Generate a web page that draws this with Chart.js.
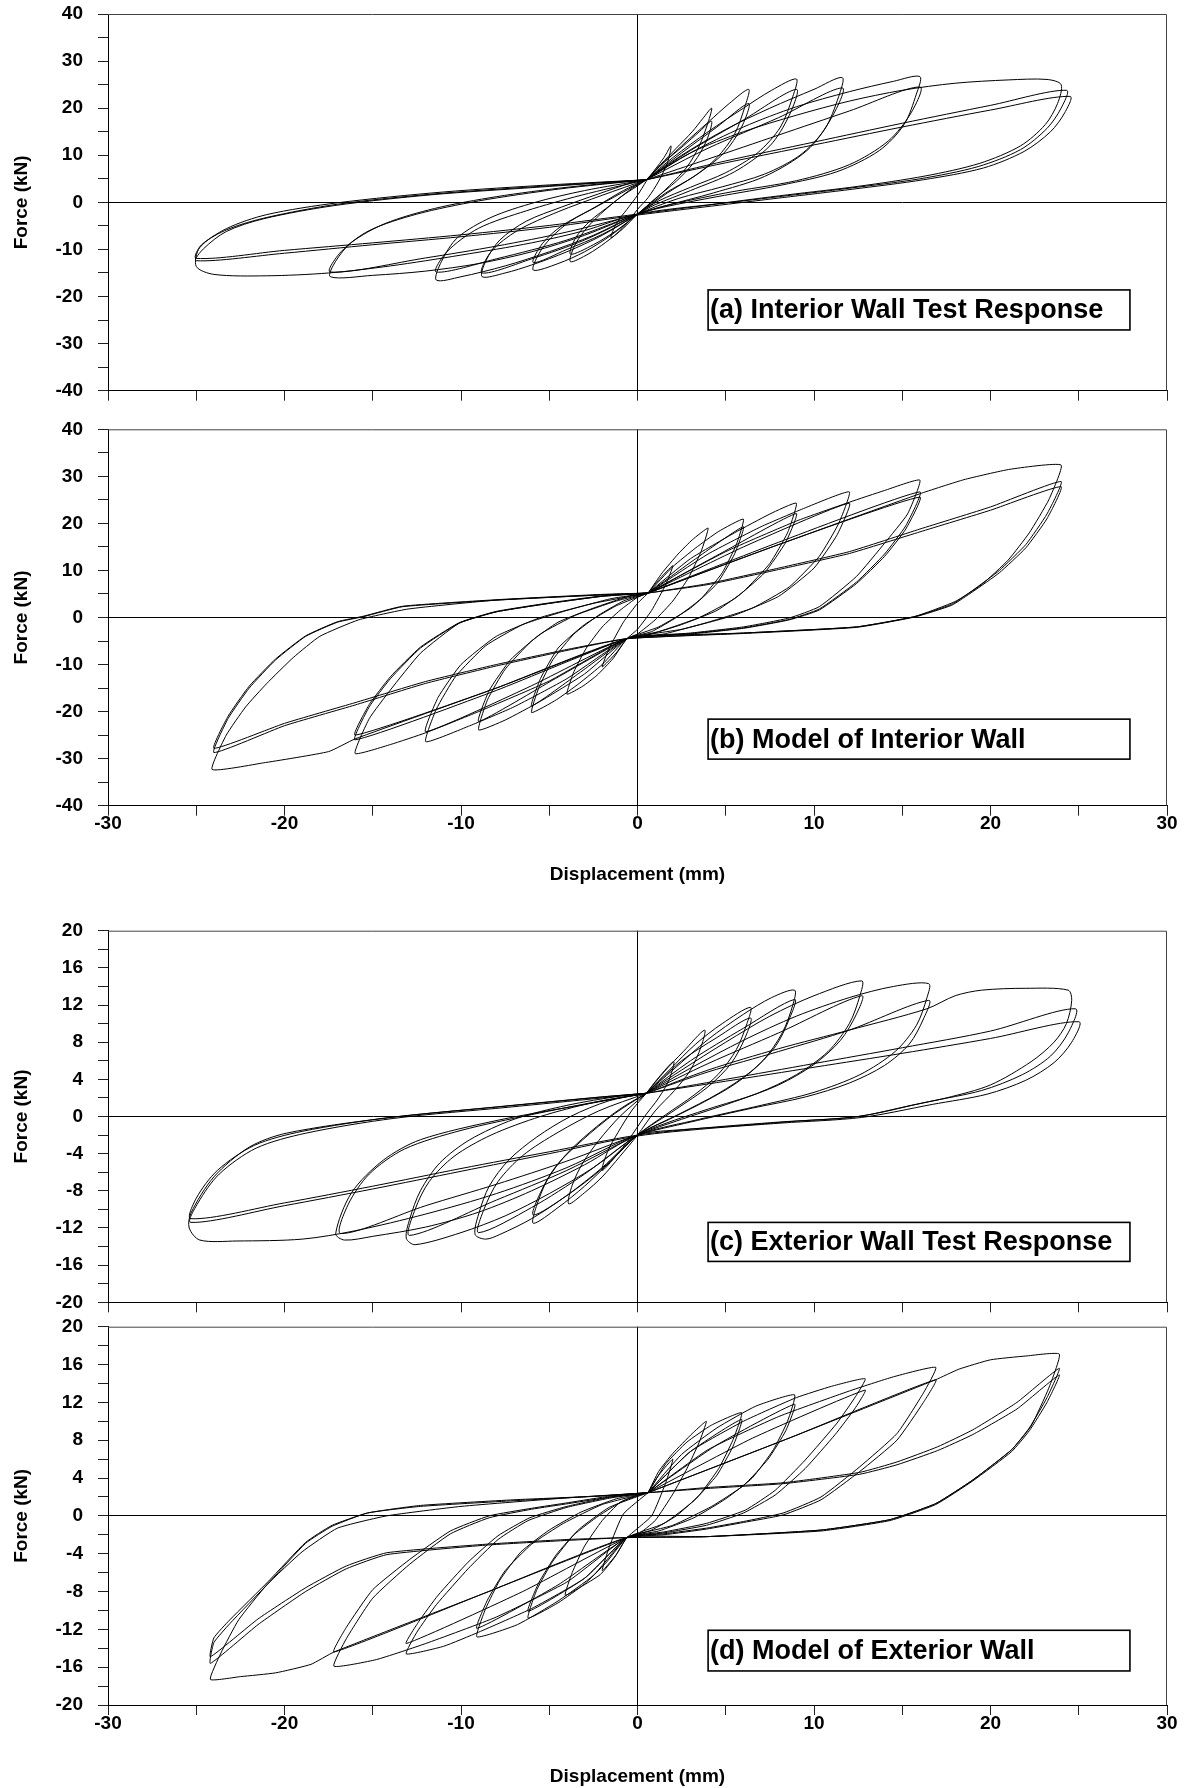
<!DOCTYPE html>
<html>
<head>
<meta charset="utf-8">
<title>Wall hysteresis: test response and model</title>
<script src="https://cdn.jsdelivr.net/npm/chart.js@4.4.1/dist/chart.umd.min.js"></script>
<style>
  html, body { margin: 0; padding: 0; background: #fff; }
  #page { position: relative; width: 1188px; height: 1788px; overflow: hidden; }
  #page canvas { position: absolute; left: 0; }
</style>
</head>
<body>
<div id="page">
  <canvas id="panel-a" width="1188" height="405" style="top:0px"></canvas>
  <canvas id="panel-b" width="1188" height="471" style="top:415px"></canvas>
  <canvas id="panel-c" width="1188" height="400" style="top:916px"></canvas>
  <canvas id="panel-d" width="1188" height="476" style="top:1312px"></canvas>
</div>
<script>
// tick labels
const displacementLabels = [-30, -20, -10, 0, 10, 20, 30];
const interiorForceLabels = [-40, -30, -20, -10, 0, 10, 20, 30, 40];
const exteriorForceLabels = [-20, -16, -12, -8, -4, 0, 4, 8, 12, 16, 20];

// (a) interior wall, test: one loop per cycle, [displacement mm, force kN]
const interiorTest = [
    [[0.5,4.5],[1,7],[1.5,9.5],[1.9,12],[1.7,8.5],[1.2,4.5],[0.6,1],[0,-1.5],[-0.5,-4],[-1,-6],[-1.5,-7.5],[-1.2,-4.5],[-0.6,-1.5],[0,1.5],[0.5,4.5]],
    [[0.5,4.8],[1.3,8],[2.2,11.5],[3.1,15],[3.7,17.8],[4.2,20],[4,17],[3.5,12],[2.8,7.5],[1.8,3.5],[0.8,0],[0,-2.5],[-0.8,-5.5],[-1.8,-8.5],[-2.8,-11],[-3.8,-12.6],[-3.6,-9.5],[-3,-6],[-2.1,-2.5],[-1,1],[0,3.5],[0.5,4.8]],
    [[0.5,4.8],[1.5,8.5],[2.6,12],[3.5,15],[4.2,17.2],[3.9,13],[3.2,8.5],[2.2,4.5],[1,0.8],[0,-2.5],[-1.2,-6],[-2.5,-9],[-3.8,-11],[-3.5,-7.5],[-2.7,-4],[-1.5,-0.5],[-0.3,3],[0.5,4.8]],
    [[0.5,4.8],[1.5,8.5],[2.8,13],[4,17],[5.2,21],[6.3,24],[6.1,20.5],[5.5,14.5],[4.5,9.5],[3.2,5.5],[1.6,2],[0,-2.5],[-1.5,-7],[-3,-10.5],[-4.5,-13],[-5.9,-14.4],[-5.6,-11],[-4.9,-7.5],[-3.8,-4],[-2.3,-0.8],[-0.8,2.5],[0.5,4.8]],
    [[0.5,4.8],[2.5,10.5],[4.5,16],[6.3,21],[5.9,16],[4.9,10.5],[3.4,6],[1.7,2],[0,-2.5],[-2,-6.8],[-4,-10],[-5.9,-12.8],[-5.4,-8.8],[-4.3,-5],[-2.6,-1.5],[-0.9,2],[0.5,4.8]],
    [[0.5,4.8],[2,9.5],[4,15],[6,20],[7.6,23.8],[9,26.2],[8.8,22.5],[8.1,16],[6.8,10.5],[5,6.3],[3,3.2],[1.2,0.3],[0,-2.5],[-2,-7],[-4,-10.5],[-6,-13.3],[-7.5,-15],[-8.8,-15.8],[-8.6,-12.5],[-7.8,-8],[-6.3,-4],[-4.3,-1],[-2.2,1.8],[-0.3,4.2],[0.5,4.8]],
    [[0.5,4.8],[3,11],[6,17.5],[9,24],[8.6,18.5],[7.5,12],[5.5,6.5],[3,2.5],[1,-0.5],[0,-2.5],[-3,-8],[-6,-12],[-8.8,-15],[-8.3,-10.5],[-6.8,-6],[-4.5,-2],[-2,1.5],[0.5,4.8]],
    [[0.5,4.8],[2.5,10],[5,15.5],[7.5,20],[10,24],[11.6,26.5],[11.4,22.5],[10.6,15.5],[9.2,10],[7.2,6],[4.8,3.3],[2.3,0.8],[0,-2.5],[-2.5,-7],[-5,-10.5],[-7.5,-13.5],[-10,-15.8],[-11.4,-16.5],[-11.1,-12.5],[-10.2,-7.5],[-8.3,-3.2],[-5.8,0],[-3,2.5],[0.5,4.8]],
    [[0.5,4.8],[4,11.5],[8,18],[11.6,24.3],[11,18],[9.6,11],[7.2,5.5],[4.3,2],[1.5,-0.8],[0,-2.5],[-4,-8],[-8,-12],[-11.4,-14.8],[-10.8,-10.5],[-9,-5.5],[-6.3,-1.8],[-3.2,1.5],[0.5,4.8]],
    [[0.5,4.8],[3,10.5],[6,16],[9,20.3],[12,23.5],[14.5,25.7],[16,26.7],[15.8,23],[15.1,16.5],[13.7,11],[11.3,6.5],[8.2,3.7],[4.5,1.2],[1.5,-1],[0,-2.5],[-3,-7],[-6,-10.5],[-9,-13],[-12,-14.6],[-15,-15.5],[-17.4,-15.8],[-17.1,-12.5],[-16.2,-8.5],[-14.3,-4.5],[-11.5,-1.3],[-8,1.2],[-4,3.2],[0.5,4.8]],
    [[0.5,4.8],[4,9.2],[8,14.3],[12,19.4],[16,24.5],[15.5,19],[14.2,13],[12,8],[9,4.6],[5,2],[1.5,-0.8],[0,-2.5],[-4,-6.3],[-8,-9.3],[-12,-11.8],[-17.4,-14.8],[-16.8,-10.5],[-15.2,-6],[-12.5,-2.5],[-9,0.3],[-4.5,2.8],[0.5,4.8]],
    [[0.5,4.8],[3,10.5],[6,15],[9,18.5],[12,21.5],[15,23.8],[18,25.3],[21,26],[23.2,26.1],[24,25],[23.8,21],[23.1,16.5],[21.7,12],[19.4,8.3],[16.3,5.6],[12.5,3.4],[8.5,1.6],[4.5,-0.3],[0,-2.5],[-3,-6],[-6,-8.6],[-10,-11.2],[-14,-13.5],[-17.5,-15],[-21,-15.6],[-24,-15.3],[-25,-13.6],[-24.8,-9.6],[-23.3,-5.6],[-21,-2.6],[-17,-0.1],[-11,2.2],[-5,3.7],[0.5,4.8]],
    [[0.5,4.8],[5,8.8],[10,12.8],[15,16.8],[20,20.6],[24.3,23.8],[24,20],[23.2,15.7],[21.7,11.2],[19.3,7.6],[16,5],[12,3],[8,1.2],[4,-0.6],[0,-2.5],[-5,-4.9],[-10,-6.9],[-15,-8.6],[-20,-10.2],[-25,-11.9],[-24.7,-9],[-23.2,-5.7],[-21,-3.2],[-17,-0.4],[-11.5,1.8],[-5.5,3.4],[0.5,4.8]],
    [[0.5,4.8],[5,8.4],[10,12.2],[15,16],[20,19.6],[24.5,22.5],[24.2,19],[23.4,15],[21.9,10.8],[19.6,7.3],[16.2,4.8],[12.2,2.8],[8.2,1],[4.2,-0.8],[0,-2.7],[-5,-5.3],[-10,-7.3],[-15,-9],[-20,-10.8],[-25,-12.4],[-24.6,-9.9],[-23.3,-6.2],[-21.2,-3.5],[-17.2,-0.7],[-11.7,1.6],[-5.7,3.2],[0.5,4.8]],
];

// (b) interior wall, model
const interiorModel = [
    [[0.6,5.2],[1.2,8],[2,11],[1.6,7],[0.8,1.5],[0,-2.5],[-0.6,-4.5],[-1.2,-7.5],[-2,-10.5],[-1.6,-6.5],[-0.8,-1],[0,3],[0.6,5.2]],
    [[0.6,5.2],[1.4,9.5],[2.3,13.5],[3.1,16.5],[4,19],[3.6,14],[2.9,8.5],[2,3.5],[1,-0.5],[0,-3.5],[-0.6,-4.5],[-1.4,-8.8],[-2.3,-12.3],[-3.1,-14.6],[-4,-16.3],[-3.6,-11.5],[-2.9,-6.5],[-2,-2],[-1,1.5],[0,4.3],[0.6,5.2]],
    [[0.6,5.2],[2,10.8],[3.3,14.8],[4.6,18.3],[6,20.9],[5.6,15.5],[4.8,9.5],[3.6,4],[2.2,0],[0.8,-3],[-0.6,-4.5],[-2,-10],[-3.3,-14],[-4.6,-17.5],[-6,-20.2],[-5.6,-15],[-4.8,-9],[-3.6,-3.5],[-2.2,0.5],[-0.8,3.5],[0.6,5.2]],
    [[0.6,5.2],[3.3,12.5],[6,19.3],[5.5,13.5],[4.5,7.2],[3,2],[1.2,-2],[-0.6,-4.5],[-3.3,-11.8],[-6,-18.8],[-5.5,-13],[-4.5,-6.5],[-3,-1.5],[-1.2,2.5],[0.6,5.2]],
    [[0.6,5.2],[3,12.5],[5.5,18],[7.5,22],[9,24.3],[8.5,18],[7.5,11.5],[6,5.5],[4.5,1.5],[2.5,-1.5],[0.5,-3.8],[-0.6,-4.5],[-3,-12],[-5.5,-17.8],[-7.5,-21.8],[-9,-23.9],[-8.5,-17.5],[-7.5,-11],[-6,-5],[-4.5,-1],[-2.5,2],[-0.5,4.5],[0.6,5.2]],
    [[0.6,5.2],[4.8,13.8],[9,22.1],[8.4,16],[7.2,9.5],[5.5,4],[3.5,0],[1.2,-3],[-0.6,-4.5],[-4.8,-13.3],[-9,-22.1],[-8.4,-15.5],[-7.2,-9],[-5.5,-3.5],[-3.5,0.5],[-1.2,3.5],[0.6,5.2]],
    [[0.6,5.2],[4,13.5],[7,19.3],[9.5,23.3],[12,26.7],[11.4,20],[10.3,13],[8.6,6.5],[6.5,2],[4,-1],[1.5,-3.5],[-0.6,-4.5],[-4,-13],[-7,-19],[-9.5,-23],[-12,-26.4],[-11.4,-19.5],[-10.3,-12.5],[-8.6,-6],[-6.5,-1.5],[-4,1.5],[-1.5,4],[0.6,5.2]],
    [[0.6,5.2],[6,15],[12,24.3],[11.3,17.5],[10,10.5],[8,4.5],[5.5,0.5],[2.5,-2.5],[-0.6,-4.5],[-6,-14.5],[-12,-24.3],[-11.3,-17],[-10,-10],[-8,-4],[-5.5,0],[-2.5,3],[0.6,5.2]],
    [[0.6,5.2],[5,14],[9,20.5],[12,24.5],[14,27],[16,29.2],[15.3,22],[14,15.8],[12.4,8.7],[10.3,2.3],[8.6,-0.1],[6,-2],[3,-3.3],[-0.6,-4.5],[-5,-13.5],[-9,-20],[-12,-24.5],[-14,-27],[-16,-28.9],[-15.2,-21.5],[-14,-15.4],[-12.3,-7.6],[-10.1,-1.2],[-8,1.2],[-5,3],[-2,4.5],[0.6,5.2]],
    [[0.6,5.2],[8,16],[16,26.7],[15.2,19.5],[14,13.5],[12.4,7.5],[10.3,1.8],[8.6,-0.4],[6,-2.2],[3,-3.4],[-0.6,-4.5],[-8,-15.5],[-16,-26],[-15.2,-19],[-14,-13],[-12.3,-6.5],[-10.1,-1.2],[-8,1.2],[-5,3],[-2,4.5],[0.6,5.2]],
    [[0.6,5.2],[8,15.5],[16,25.6],[15.2,18.8],[14,13],[12.4,7.2],[10.3,1.6],[8.6,-0.5],[6,-2.3],[3,-3.5],[-0.6,-4.5],[-8,-15],[-16,-25],[-15.2,-18.5],[-14,-12.6],[-12.3,-6.3],[-10.1,-1.1],[-8,1.3],[-5,3.1],[-2,4.6],[0.6,5.2]],
    [[0.6,5.2],[8,15.5],[16,26.3],[18.5,29.3],[21.1,31.5],[24,32.4],[23.3,25],[22.2,18],[21,12.2],[19.5,7],[18,3.4],[15.7,0.2],[12.4,-2],[6,-3.3],[-0.6,-4.5],[-8,-15],[-16,-25.8],[-17.5,-28.5],[-21.2,-30.9],[-24.1,-32.3],[-23.3,-25],[-22.2,-19],[-21,-14],[-19.5,-8.5],[-18,-4],[-15.8,-0.5],[-13,1.8],[-8,3.7],[-2,4.8],[0.6,5.2]],
    [[0.6,5.2],[4,7.2],[8,10.5],[12,14],[16,18.8],[20,23.5],[24,28.9],[23.2,22],[22,15.5],[20.5,10],[19,5.8],[17.8,2.8],[15.7,0.2],[12.4,-2],[6,-3.3],[-0.6,-4.5],[-4,-7],[-8,-10.3],[-12,-14],[-16,-18.6],[-20,-23],[-24,-28.7],[-23.2,-21.5],[-22,-15],[-20.5,-9],[-18.8,-4],[-17,-1],[-15.5,0.2],[-13.3,2.3],[-7.9,3.7],[-2.1,4.8],[0.6,5.2]],
    [[0.6,5.2],[4,7],[8,10.2],[12,13.6],[16,18.2],[20,22.8],[24,27.8],[23.2,21],[22,14.8],[20.5,9.5],[19,5.5],[17.8,2.6],[15.7,0.1],[12.4,-2.1],[6,-3.4],[-0.6,-4.5],[-4,-6.8],[-8,-10],[-12,-13.6],[-16,-18.1],[-20,-22.5],[-24,-27.8],[-23.2,-21],[-22,-14.6],[-20.5,-8.8],[-18.8,-3.9],[-17,-0.9],[-15.5,0.3],[-13.3,2.4],[-7.9,3.8],[-2.1,4.9],[0.6,5.2]],
];

// (c) exterior wall, test
const exteriorTest = [
    [[0.5,2.5],[1.2,4.2],[2.05,5.9],[1.8,4],[1.2,2],[0.4,0],[-0.5,-2.5],[-1.2,-4.2],[-2,-5.8],[-1.7,-3.8],[-1.1,-1.7],[-0.3,0.7],[0.5,2.5]],
    [[0.5,2.5],[1.5,4.8],[2.6,7],[3.8,9.3],[3.6,7.5],[3,5],[2.1,2.8],[1,0.6],[0,-2],[-1,-4.3],[-2,-6.5],[-3,-8.2],[-3.9,-9.4],[-3.7,-7.4],[-3.1,-5],[-2.2,-2.6],[-1,0],[0.5,2.5]],
    [[0.5,2.5],[1.8,5],[3.3,7.8],[4.8,10],[6.4,11.75],[6.2,10],[5.6,7.2],[4.6,4.6],[3.2,2.3],[1.6,0.2],[0,-2],[-1.5,-4.8],[-3,-7.5],[-4.5,-9.8],[-5.9,-11.5],[-5.7,-9.5],[-5.1,-6.8],[-4.1,-4.2],[-2.7,-1.7],[-1,0.8],[0.5,2.5]],
    [[0.5,2.5],[2.5,6],[4.5,8.5],[6.4,10.6],[6.1,8.5],[5.3,5.7],[4,3.2],[2.2,0.8],[0,-2],[-2,-5.6],[-4,-8.5],[-5.9,-10.6],[-5.5,-8.2],[-4.6,-5.3],[-3.1,-2.5],[-1.3,0.3],[0.5,2.5]],
    [[0.5,2.5],[2,5],[4,8.3],[6,11],[7.6,12.8],[8.9,13.6],[8.8,12],[8.2,9],[7.1,6],[5.6,3.6],[3.8,1.6],[1.8,-0.3],[0,-2],[-2,-5.5],[-4,-8.5],[-6,-11],[-7.8,-12.7],[-8.6,-13.2],[-9.2,-12.7],[-9,-10.5],[-8.4,-7.5],[-7.3,-4.7],[-5.7,-2.2],[-3.8,0],[-1.6,1.7],[0.5,2.5]],
    [[0.5,2.5],[3,6],[6,9.5],[8.9,12.6],[8.6,10.5],[7.8,7.5],[6.4,4.8],[4.6,2.5],[2.4,0.3],[0,-2],[-3,-6.2],[-6,-9.8],[-9,-12.5],[-8.7,-10],[-7.9,-7],[-6.5,-4.2],[-4.5,-1.7],[-2.2,0.6],[0.5,2.5]],
    [[0.5,2.5],[2.5,5],[5,8],[7.5,10.8],[10,13],[12.7,14.6],[12.6,13],[12,10],[10.8,7],[9,4.5],[6.8,2.5],[4,0.8],[1.5,-0.8],[0,-2],[-2.5,-5.5],[-5,-8.3],[-7.5,-10.7],[-10,-12.5],[-12.6,-13.8],[-13.1,-13.1],[-12.9,-11],[-12.3,-8],[-11.2,-5],[-9.5,-2.5],[-7,-0.3],[-4,1.2],[-1,2.2],[0.5,2.5]],
    [[0.5,2.5],[4,5.7],[8,9],[12.7,13],[12.4,11],[11.5,8.2],[10,5.6],[8,3.4],[5.5,1.6],[2.5,-0.3],[0,-2],[-4,-5.8],[-8,-9],[-12.9,-12.8],[-12.6,-10],[-11.8,-7],[-10.4,-4.3],[-8.3,-2],[-5.5,0],[-2.5,1.5],[0.5,2.5]],
    [[0.5,2.5],[3,5.2],[6,8.2],[9,10.8],[12,12.8],[14.5,14],[16.5,14.3],[16.4,12.8],[15.8,9.8],[14.6,7],[12.6,4.5],[10,2.6],[7,1.2],[3.5,-0.3],[0,-2],[-3,-5.2],[-6,-8],[-9,-10.3],[-12,-11.9],[-15,-12.9],[-16.6,-13.3],[-17.1,-12.6],[-16.2,-8.2],[-14.4,-4.7],[-12.3,-2.5],[-7.9,-0.4],[-3,1.3],[0.5,2.5]],
    [[0.5,2.5],[4,4.8],[8,7],[12,9.3],[16.5,12.5],[16.2,10.5],[15.4,7.8],[14,5.5],[12,3.6],[9.5,2.1],[6.5,0.9],[3,-0.6],[0,-2],[-4,-4.8],[-8,-7.3],[-12,-9.6],[-16.8,-12.6],[-16.4,-9.5],[-15.2,-6.2],[-13.2,-3.5],[-10,-1.5],[-6,0.2],[-2,1.7],[0.5,2.5]],
    [[0.5,2.5],[4,5],[8,7.3],[12,9.3],[16.4,11.6],[18,13],[19.5,13.6],[22,13.8],[24.4,13.6],[24.6,12.5],[24.3,10],[23.6,8],[22.3,5.9],[20,3.4],[17.5,2],[15.5,1.2],[12.5,0],[9,-0.5],[5,-1.1],[2.6,-1.4],[0,-2],[-4,-5.5],[-8,-8.3],[-12,-10.5],[-16,-12.3],[-19,-13.2],[-22.7,-13.4],[-24.8,-13.3],[-25.4,-12],[-25.3,-10.4],[-24,-6.5],[-22,-3.3],[-19.9,-1.8],[-14.4,-0.2],[-7.9,1.05],[-2.1,2.1],[0.5,2.5]],
    [[0.5,2.5],[5,4],[10,5.7],[15,7.4],[20,9.2],[24.8,11.6],[24.4,9],[23.4,6.5],[21.8,4.5],[19.5,2.8],[16.5,1.6],[12.5,0],[8,-0.6],[4,-1.2],[0,-2],[-5,-3.8],[-10,-5.6],[-15,-7.5],[-20,-9.3],[-25.3,-11],[-25,-8.8],[-23.8,-5.8],[-21.7,-3.1],[-19,-1.6],[-14,-0.1],[-7.5,1.1],[-2,2.1],[0.5,2.5]],
    [[0.5,2.5],[5,3.8],[10,5.3],[15,6.8],[20,8.4],[25,10.2],[24.6,8],[23.6,5.8],[22,3.9],[19.8,2.4],[16.7,1.3],[12.7,-0.1],[8.2,-0.7],[4,-1.3],[0,-2.1],[-5,-4],[-10,-5.9],[-15,-7.8],[-20,-9.6],[-25.3,-11.4],[-24.9,-9.3],[-23.7,-6.2],[-21.6,-3.4],[-18.8,-1.8],[-13.8,-0.2],[-7.3,1],[-2,2],[0.5,2.5]],
];

// (d) exterior wall, model
const exteriorModel = [
    [[0.6,2.45],[1.2,4.3],[2,6],[1.6,3.5],[0.8,0],[-0.6,-2.3],[-1.2,-4.1],[-2,-5.8],[-1.6,-3.3],[-0.8,0.2],[0.6,2.45]],
    [[0.6,2.45],[1.2,4.7],[2,6.6],[3.1,8.7],[3.9,10],[3.5,7.8],[2.8,5],[2,2.3],[1,-0.5],[0,-2],[-0.6,-2.3],[-1.3,-4.4],[-2.1,-6.2],[-3.2,-7.5],[-4.1,-8.4],[-3.7,-6],[-3,-3.2],[-2,-0.5],[-1,1.4],[0,2.2],[0.6,2.45]],
    [[0.6,2.45],[1.6,5.5],[2.8,7.8],[4.2,9.6],[5.9,10.9],[5.4,8],[4.6,5],[3.5,2.2],[2.2,0],[0.8,-1.5],[-0.6,-2.3],[-1.8,-5],[-3,-7.2],[-4.5,-9.2],[-6.2,-10.8],[-5.7,-7.8],[-4.8,-4.8],[-3.6,-2],[-2.2,0],[-0.8,1.6],[0.6,2.45]],
    [[0.6,2.45],[3,6.8],[5.9,10.2],[5.4,7.3],[4.5,4.3],[3.2,1.6],[1.5,-0.8],[-0.6,-2.3],[-3,-6.6],[-6.2,-10.1],[-5.6,-7.1],[-4.6,-4.1],[-3.3,-1.4],[-1.6,0.9],[0.6,2.45]],
    [[0.6,2.45],[2.5,6.5],[4.5,9.3],[6.7,11.6],[8.9,12.8],[8.5,10],[7.7,7],[6.5,4],[5,1.8],[3.2,-0.2],[1.2,-1.6],[-0.6,-2.3],[-2.5,-6.3],[-4.5,-9],[-6.8,-11.5],[-9.1,-12.8],[-8.6,-9.8],[-7.8,-6.8],[-6.6,-3.8],[-5,-1.5],[-3.2,0.4],[-1.2,1.8],[0.6,2.45]],
    [[0.6,2.45],[4.5,7.5],[8.9,11.8],[8.4,9],[7.4,6],[6,3.2],[4.2,1],[2,-1],[-0.6,-2.3],[-4.5,-7.3],[-9.1,-11.9],[-8.5,-8.9],[-7.5,-5.8],[-6,-3],[-4.2,-0.8],[-2,1.2],[0.6,2.45]],
    [[0.6,2.45],[3,6.8],[6,10],[9,12.5],[11,13.7],[12.9,14.5],[12.35,12.6],[11.3,9.8],[9.5,5.9],[7.8,2.7],[6.1,0.6],[3.9,-0.8],[1.5,-1.7],[-0.6,-2.3],[-3,-6.6],[-6,-9.8],[-9,-12.3],[-11,-13.8],[-13.1,-14.6],[-12.5,-12.3],[-11.4,-9.4],[-9.6,-5.6],[-7.9,-2.5],[-6.2,-0.5],[-4,0.9],[-1.5,1.9],[0.6,2.45]],
    [[0.6,2.45],[6.5,8.2],[12.9,13.3],[12.3,11.3],[11.2,8.6],[9.5,5],[7.8,2.2],[6,0.3],[3.9,-1],[1.5,-1.8],[-0.6,-2.3],[-6.5,-8],[-13.1,-13.5],[-12.4,-11.2],[-11.3,-8.4],[-9.6,-4.9],[-7.9,-2.1],[-6.1,-0.2],[-4,1],[-1.5,2],[0.6,2.45]],
    [[0.6,2.45],[4,7],[8,10.5],[12,13.2],[14.5,14.7],[16.9,15.7],[16.2,13],[14.7,8.7],[12.6,5.2],[10.4,2],[8.25,0.3],[6,-0.6],[3.9,-1.3],[1.5,-1.9],[-0.6,-2.3],[-4,-7],[-8,-10.7],[-12,-13.5],[-14.8,-15.2],[-17.2,-15.9],[-16.5,-13],[-15,-8.7],[-12.9,-5.1],[-10.6,-1.9],[-8.4,-0.2],[-6,0.7],[-3.9,1.3],[-1.5,2],[0.6,2.45]],
    [[0.6,2.45],[8.7,8.3],[16.9,14.4],[16.2,12],[14.7,8],[12.6,4.7],[10.4,1.7],[8.25,0.1],[6,-0.7],[3.9,-1.4],[1.5,-2],[-0.6,-2.3],[-8.7,-8.2],[-17.2,-14.4],[-16.5,-11.8],[-15,-7.8],[-12.9,-4.6],[-10.6,-1.6],[-8.4,0],[-6,0.8],[-3.9,1.4],[-1.5,2.1],[0.6,2.45]],
    [[0.6,2.45],[8.7,8.3],[16.9,14.4],[18.2,15.5],[20,16.5],[22,16.9],[23.9,17.1],[23.3,13.5],[22.3,9.5],[21.2,7],[19,3.8],[16.9,1.3],[14.3,-0.4],[10.4,-1.5],[3.9,-2.2],[-0.6,-2.3],[-8.7,-8.2],[-17.2,-14.4],[-18.5,-15.7],[-20.5,-16.6],[-22.5,-17],[-24.2,-17.3],[-23.6,-14.5],[-22.6,-11],[-21,-7.3],[-19,-3.8],[-17,-1.3],[-14.2,0],[-10,1],[-4,1.9],[0.6,2.45]],
    [[0.6,2.45],[4,3],[8.25,3.5],[12.6,4.6],[14.7,5.7],[17,7.3],[19,9.1],[21.5,12],[23.9,15.6],[23.2,12.5],[22.2,9.3],[21.2,7],[19,3.8],[16.9,1.3],[14.3,-0.4],[10.4,-1.5],[3.9,-2.2],[-0.6,-2.3],[-4,-2.6],[-8.6,-3.1],[-14.2,-4.1],[-16.5,-5.6],[-18.8,-8],[-21.5,-11.5],[-24.2,-15.6],[-24,-13.4],[-23.1,-11.4],[-20.9,-7.1],[-18.8,-2.9],[-17.3,-1.1],[-15.3,0.3],[-12.3,1],[-7,1.6],[-2.1,2.1],[0.6,2.45]],
    [[0.6,2.45],[4,2.9],[8.25,3.4],[12.6,4.4],[14.7,5.4],[17,6.9],[19,8.6],[21.5,11.3],[23.9,14.9],[23.2,12],[22.2,9],[21.2,6.8],[19,3.7],[16.9,1.2],[14.3,-0.5],[10.4,-1.6],[3.9,-2.2],[-0.6,-2.3],[-4,-2.5],[-8.6,-3],[-14.2,-3.9],[-16.5,-5.3],[-18.8,-7.6],[-21.5,-10.9],[-24.2,-14.9],[-24,-12.9],[-23.1,-11],[-20.9,-6.9],[-18.8,-2.8],[-17.3,-1],[-15.3,0.3],[-12.3,1.1],[-7,1.7],[-2.1,2.1],[0.6,2.45]],
];

const FONT = 'Liberation Sans';

// frame on top/right and the caption box (placed in data units)
const panelFrame = {
    id: 'panelFrame',
    afterDatasetsDraw(chart, args, opts) {
        const { ctx, chartArea: a, scales: { x, y } } = chart;
        ctx.save();
        ctx.strokeStyle = '#444';
        ctx.lineWidth = 1;
        ctx.beginPath();
        ctx.moveTo(a.left, a.top + 0.5);
        ctx.lineTo(a.right - 0.5, a.top + 0.5);
        ctx.lineTo(a.right - 0.5, a.bottom);
        ctx.stroke();

        const left = x.getPixelForValue(opts.box[0]);
        const right = x.getPixelForValue(opts.box[1]);
        const top = y.getPixelForValue(opts.box[2]);
        const bottom = y.getPixelForValue(opts.box[3]);
        ctx.fillStyle = '#fff';
        ctx.fillRect(left, top, right - left, bottom - top);
        ctx.strokeStyle = '#000';
        ctx.lineWidth = 1.6;
        ctx.strokeRect(left, top, right - left, bottom - top);
        ctx.fillStyle = '#000';
        ctx.font = `bold 27px "${FONT}"`;
        ctx.textBaseline = 'middle';
        ctx.fillText(opts.caption, left + 2, (top + bottom) / 2 + 1);
        ctx.restore();
    },
};

const makePanel = (id, loops, cfg) => {
    const tickFont = { family: FONT, size: 19, weight: 'bold' };
    const titleFont = { family: FONT, size: 19, weight: 'bold' };
    const zeroLine = (c) => (c.tick && c.tick.value === 0 ? '#000' : 'rgba(0,0,0,0)');

    new Chart(document.getElementById(id), {
        type: 'scatter',
        data: {
            datasets: loops.map((loop) => ({
                data: loop.map(([x, y]) => ({ x, y })),
                showLine: true,
                borderColor: '#000',
                borderWidth: 1,
                pointRadius: 0,
                tension: cfg.tension,
                fill: false,
            })),
        },
        plugins: [panelFrame],
        options: {
            responsive: false,
            animation: false,
            devicePixelRatio: 1,
            events: [],
            layout: { padding: { top: cfg.padTop, right: 21, bottom: 0, left: 0 } },
            plugins: {
                legend: { display: false },
                tooltip: { enabled: false },
                panelFrame: { box: cfg.box, caption: cfg.caption },
            },
            scales: {
                x: {
                    type: 'linear',
                    min: -30,
                    max: 30,
                    afterFit: (scale) => {
                        scale.height = cfg.xHeight;
                        scale.paddingLeft = 0;
                        scale.paddingRight = 0;
                    },
                    ticks: {
                        stepSize: 5,
                        maxTicksLimit: 100,
                        autoSkip: false,
                        maxRotation: 0,
                        padding: -3,
                        color: '#000',
                        font: tickFont,
                        callback: (v) => (cfg.xLabels && displacementLabels.includes(v) ? v : ''),
                    },
                    grid: { color: zeroLine, tickColor: '#222', tickLength: 10, lineWidth: 1 },
                    border: { display: true, color: '#000', width: 1 },
                    title: {
                        display: cfg.xLabels,
                        text: 'Displacement (mm)',
                        color: '#000',
                        font: titleFont,
                        padding: { top: 0, bottom: 0 },
                    },
                },
                y: {
                    type: 'linear',
                    min: cfg.yMin,
                    max: cfg.yMax,
                    afterFit: (scale) => {
                        scale.width = 108;
                        scale.paddingTop = 0;
                        scale.paddingBottom = 0;
                    },
                    ticks: {
                        stepSize: cfg.yStep,
                        maxTicksLimit: 100,
                        autoSkip: false,
                        padding: 15,
                        color: '#000',
                        font: tickFont,
                        callback: (v) => (cfg.yLabels.includes(v) ? v : ''),
                    },
                    grid: { color: zeroLine, tickColor: '#222', tickLength: 10, lineWidth: 1 },
                    border: { display: true, color: '#000', width: 1 },
                    title: {
                        display: true,
                        text: 'Force (kN)',
                        color: '#000',
                        font: titleFont,
                        padding: { top: 10, bottom: 0 },
                    },
                },
            },
        },
    });
};

document.addEventListener('DOMContentLoaded', () => {
    makePanel('panel-a', interiorTest, {
        tension: 0.3, padTop: 14, xHeight: 14.3, xLabels: false,
        yMin: -40, yMax: 40, yStep: 5, yLabels: interiorForceLabels,
        box: [4, 27.9, -18.6, -27.1], caption: '(a) Interior Wall Test Response',
    });
    makePanel('panel-b', interiorModel, {
        tension: 0.15, padTop: 14.3, xHeight: 80.3, xLabels: true,
        yMin: -40, yMax: 40, yStep: 5, yLabels: interiorForceLabels,
        box: [4, 27.9, -21.6, -30.1], caption: '(b) Model of Interior Wall',
    });
    makePanel('panel-c', exteriorTest, {
        tension: 0.3, padTop: 14.7, xHeight: 13.7, xLabels: false,
        yMin: -20, yMax: 20, yStep: 2, yLabels: exteriorForceLabels,
        box: [4, 27.9, -11.4, -15.6], caption: '(c) Exterior Wall Test Response',
    });
    makePanel('panel-d', exteriorModel, {
        tension: 0.15, padTop: 14.7, xHeight: 83, xLabels: true,
        yMin: -20, yMax: 20, yStep: 2, yLabels: exteriorForceLabels,
        box: [4, 27.9, -12.1, -16.4], caption: '(d) Model of Exterior Wall',
    });
});
</script>
</body>
</html>
